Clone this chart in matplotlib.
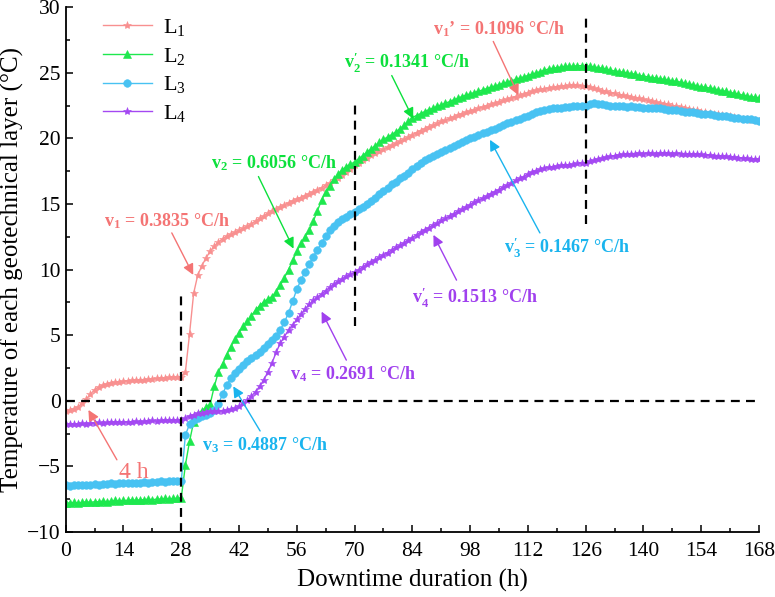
import numpy as np
import matplotlib
matplotlib.use("Agg")
import matplotlib.pyplot as plt

plt.rcParams['font.family'] = ['Liberation Serif', 'DejaVu Serif']
plt.rcParams['mathtext.fontset'] = 'custom'
plt.rcParams['mathtext.rm'] = 'Liberation Serif'
plt.rcParams['mathtext.it'] = 'Liberation Serif:italic'
plt.rcParams['mathtext.bf'] = 'Liberation Serif:bold'

# temperatures (deg C), one reading per hour from 0 to 168 h
L1 = [-0.75, -0.7, -0.6, -0.45, -0.2, 0.15, 0.5, 0.85, 1.05, 1.2,
      1.3, 1.38, 1.42, 1.45, 1.5, 1.52, 1.55, 1.58, 1.6, 1.62,
      1.65, 1.68, 1.7, 1.72, 1.75, 1.78, 1.8, 1.82, 1.85, 2.2,
      5.1, 8.2, 9.6, 10.3, 10.9, 11.4, 11.8, 12.1, 12.35, 12.55,
      12.7, 12.85, 13.0, 13.15, 13.3, 13.5, 13.7, 13.9, 14.1, 14.3,
      14.5, 14.65, 14.8, 14.95, 15.1, 15.25, 15.4, 15.5, 15.65, 15.8,
      15.95, 16.1, 16.25, 16.45, 16.6, 16.8, 17.0, 17.2, 17.45, 17.7,
      17.95, 18.15, 18.35, 18.55, 18.75, 18.9, 19.05, 19.2, 19.35, 19.5,
      19.65, 19.8, 19.95, 20.1, 20.3, 20.45, 20.6, 20.75, 20.9, 21.0,
      21.15, 21.3, 21.4, 21.55, 21.65, 21.8, 21.9, 22.0, 22.1, 22.2,
      22.3, 22.4, 22.5, 22.6, 22.7, 22.8, 22.9, 23.0, 23.1, 23.2,
      23.3, 23.4, 23.5, 23.6, 23.7, 23.75, 23.8, 23.85, 23.9, 23.95,
      24.0, 24.0, 24.05, 24.05, 24.05, 24.0, 24.0, 23.95, 23.85, 23.75,
      23.65, 23.6, 23.5, 23.45, 23.35, 23.3, 23.25, 23.2, 23.1, 23.05,
      23.0, 22.9, 22.85, 22.8, 22.7, 22.65, 22.6, 22.5, 22.45, 22.4,
      22.35, 22.25, 22.2, 22.15, 22.05, 22.0, 21.95, 21.9, 21.85, 21.8,
      21.75, 21.7, 21.65, 21.6, 21.5, 21.45, 21.42, 21.38, 21.35]

L2 = [-7.8, -7.8, -7.75, -7.8, -7.75, -7.7, -7.75, -7.7, -7.7, -7.65,
      -7.7, -7.65, -7.6, -7.65, -7.6, -7.6, -7.55, -7.6, -7.55, -7.55,
      -7.5, -7.55, -7.5, -7.5, -7.45, -7.5, -7.45, -7.45, -7.4, -4.9,
      -3.1, -1.6, -1.0, -0.75, -0.5, -0.25, 1.1, 2.2, 2.8, 3.5,
      4.1, 4.7, 5.2, 5.7, 6.1, 6.5, 6.9, 7.25, 7.55, 7.75,
      7.95, 8.3, 8.8, 9.4, 10.0, 10.7, 11.4, 12.0, 12.5, 13.0,
      13.7, 14.5, 15.3, 15.9, 16.4, 16.9, 17.3, 17.6, 17.85, 18.05,
      18.2, 18.45, 18.7, 18.95, 19.2, 19.45, 19.7, 19.95, 20.1, 20.3,
      20.5, 20.75, 21.0, 21.3, 21.6, 21.75, 21.9, 22.05, 22.2, 22.3,
      22.45, 22.55, 22.7, 22.8, 22.95, 23.05, 23.2, 23.3, 23.4, 23.5,
      23.6, 23.7, 23.8, 23.9, 24.0, 24.1, 24.2, 24.3, 24.4, 24.5,
      24.6, 24.7, 24.8, 24.9, 25.0, 25.1, 25.2, 25.3, 25.35, 25.4,
      25.45, 25.5, 25.5, 25.5, 25.55, 25.55, 25.5, 25.5, 25.45, 25.4,
      25.35, 25.3, 25.2, 25.15, 25.1, 25.05, 25.0, 24.95, 24.9, 24.8,
      24.75, 24.7, 24.65, 24.6, 24.55, 24.5, 24.45, 24.4, 24.35, 24.3,
      24.2, 24.15, 24.1, 24.0, 23.95, 23.9, 23.85, 23.8, 23.7, 23.65,
      23.6, 23.5, 23.45, 23.4, 23.3, 23.25, 23.2, 23.15, 23.1]

L3 = [-6.45, -6.5, -6.45, -6.4, -6.45, -6.4, -6.4, -6.35, -6.4, -6.35,
      -6.35, -6.3, -6.35, -6.3, -6.3, -6.25, -6.3, -6.25, -6.25, -6.2,
      -6.25, -6.2, -6.2, -6.15, -6.2, -6.15, -6.15, -6.1, -6.1, -2.6,
      -1.8, -1.5, -1.3, -1.15, -1.05, -0.95, -0.7, -0.25, 0.5, 1.2,
      1.7, 2.1, 2.45, 2.75, 3.0, 3.25, 3.5, 3.75, 4.0, 4.3,
      4.6, 4.95, 5.4, 6.0, 6.7, 7.6, 8.5, 9.2, 9.85, 10.4,
      11.0, 11.5, 12.05, 12.55, 13.0, 13.35, 13.6, 13.85, 14.05, 14.25,
      14.4, 14.6, 14.8, 15.0, 15.25, 15.5, 15.75, 16.0, 16.25, 16.5,
      16.7, 16.95, 17.15, 17.4, 17.65, 17.9, 18.1, 18.35, 18.55, 18.7,
      18.85, 19.0, 19.15, 19.3, 19.45, 19.6, 19.75, 19.9, 20.0, 20.15,
      20.3, 20.4, 20.5, 20.65, 20.75, 20.9, 21.0, 21.15, 21.25, 21.4,
      21.5, 21.65, 21.75, 21.9, 22.0, 22.1, 22.2, 22.25, 22.3, 22.35,
      22.35, 22.4, 22.4, 22.45, 22.45, 22.5, 22.5, 22.6, 22.7, 22.65,
      22.6, 22.55, 22.5, 22.5, 22.45, 22.45, 22.4, 22.45, 22.4, 22.4,
      22.35, 22.35, 22.3, 22.3, 22.3, 22.25, 22.2, 22.2, 22.15, 22.1,
      22.05, 22.0, 22.0, 21.95, 21.9, 21.85, 21.85, 21.8, 21.75, 21.7,
      21.7, 21.65, 21.6, 21.55, 21.5, 21.5, 21.45, 21.4, 21.35]

L4 = [-1.75, -1.8, -1.75, -1.75, -1.7, -1.75, -1.7, -1.7, -1.65, -1.7,
      -1.65, -1.65, -1.6, -1.65, -1.6, -1.6, -1.6, -1.55, -1.6, -1.55,
      -1.55, -1.5, -1.55, -1.5, -1.5, -1.45, -1.5, -1.45, -1.45, -1.3,
      -1.15, -1.05, -0.95, -0.9, -0.85, -0.8, -0.8, -0.75, -0.75, -0.7,
      -0.65, -0.55, -0.4, -0.2, 0.05, 0.35, 0.7, 1.1, 1.6, 2.2,
      2.9, 3.7, 4.4, 4.9, 5.4, 5.8, 6.2, 6.6, 7.0, 7.35,
      7.65, 7.9, 8.15, 8.4, 8.65, 8.9, 9.1, 9.3, 9.5, 9.65,
      9.8, 10.0, 10.2, 10.4, 10.6, 10.75, 10.95, 11.15, 11.3, 11.5,
      11.7, 11.85, 12.05, 12.25, 12.45, 12.65, 12.85, 13.05, 13.2, 13.4,
      13.55, 13.75, 13.9, 14.1, 14.25, 14.45, 14.6, 14.8, 14.95, 15.15,
      15.3, 15.45, 15.6, 15.8, 15.95, 16.1, 16.3, 16.45, 16.6, 16.8,
      16.95, 17.1, 17.3, 17.45, 17.55, 17.65, 17.75, 17.8, 17.85, 17.9,
      17.95, 18.0, 18.0, 18.05, 18.1, 18.1, 18.15, 18.25, 18.35, 18.45,
      18.5, 18.6, 18.65, 18.7, 18.75, 18.8, 18.8, 18.85, 18.85, 18.9,
      18.85, 18.9, 18.9, 18.85, 18.9, 18.9, 18.9, 18.85, 18.9, 18.85,
      18.85, 18.8, 18.85, 18.8, 18.8, 18.75, 18.75, 18.7, 18.7, 18.65,
      18.65, 18.6, 18.6, 18.55, 18.5, 18.5, 18.45, 18.45, 18.4]

series = [L1, L2, L3, L4]
labels = ['L$_1$', 'L$_2$', 'L$_3$', 'L$_4$']
line_colors = ['#F89090', '#1EE84E', '#48C2F2', '#A448F2']
text_colors = ['#F47474', '#0CE03C', '#1AB4EE', '#A040EE']
markers = ['*', '^', 'o', '*']
marker_sizes = [6, 5.5, 5.5, 6]

xticks = [0, 14, 28, 42, 56, 70, 84, 98, 112, 126, 140, 154, 168]
yticks = [-10, -5, 0, 5, 10, 15, 20, 25, 30]

# stage boundaries: (time, y bottom, y top)
stage_lines = [(28, -10, 8.1), (70, 5.7, 22.7), (126, 13.5, 29.3)]

# rate annotations: text, text pos, arrow tail, arrow head, colour index
rate_notes = [
    (r'$\mathbf{v_1}$ = 0.3835 °C/h', (24.6, 13.7), (25.7, 12.8), (30.9, 9.6), 0),
    (r'$\mathbf{v_2}$ = 0.6056 °C/h', (50.5, 18.1), (46.7, 17.1), (55.2, 11.6), 1),
    (r'$\mathbf{v_3}$ = 0.4887 °C/h', (48.3, -3.35), (47.1, -2.3), (40.6, 1.1), 2),
    (r'$\mathbf{v_4}$ = 0.2691 °C/h', (69.6, 2.05), (68.0, 3.1), (62.0, 6.8), 3),
    (r'$\mathbf{v_1}$’ = 0.1096 °C/h', (105.0, 28.35), (103.6, 27.4), (109.7, 23.3), 0),
    (r'$\mathbf{v_2^{\prime}}$ = 0.1341 °C/h', (82.6, 25.8), (79.0, 24.8), (84.2, 21.5), 1),
    (r'$\mathbf{v_3^{\prime}}$ = 0.1467 °C/h', (121.4, 11.7), (114.9, 12.8), (102.8, 19.9), 2),
    (r'$\mathbf{v_4^{\prime}}$ = 0.1513 °C/h', (99.2, 7.85), (94.7, 9.2), (89.1, 12.65), 3),
]

fig = plt.figure(figsize=(7.75, 5.97), dpi=100)
ax = fig.add_axes([0.0848, 0.109, 0.8946, 0.8787])

for vals, lab, lc, mk, ms in zip(series, labels, line_colors, markers, marker_sizes):
    hours = np.arange(len(vals))
    ax.plot(hours, vals, color=lc, lw=1.0, marker=mk, markersize=ms,
            markeredgewidth=0.4, label=lab)

# reference dashed lines
dash = (0, (4, 2.8))
ax.axhline(0, color='black', lw=1.6, linestyle=dash)
for t, y0, y1 in stage_lines:
    ax.plot([t, t], [y0, y1], color='black', lw=1.6, linestyle=dash)

# rate labels with arrows
for txt, tpos, tail, head, ci in rate_notes:
    ax.text(tpos[0], tpos[1], txt, color=text_colors[ci], fontsize=13,
            fontweight='bold', ha='center', va='center')
    ax.annotate('', xy=head, xytext=tail,
                arrowprops=dict(arrowstyle='-|>', color=text_colors[ci], lw=1.0,
                                mutation_scale=16, shrinkA=0, shrinkB=0))

ax.text(16.4, -5.5, '4 h', color=text_colors[0], fontsize=17, ha='center', va='center')
ax.annotate('', xy=(5.5, -0.7), xytext=(12.4, -4.5),
            arrowprops=dict(arrowstyle='-|>', color=text_colors[0], lw=1.0,
                            mutation_scale=16, shrinkA=0, shrinkB=0))

ax.set_xlim(0, 168)
ax.set_ylim(-10, 30)
ax.set_xticks(xticks)
ax.set_yticks(yticks)
ax.set_xticks(np.arange(7, 168, 14), minor=True)
ax.set_yticks(np.arange(-7.5, 30, 5), minor=True)
ax.tick_params(which='both', direction='in', labelsize=15.5, width=1.1)
ax.tick_params(which='major', length=5)
ax.tick_params(which='minor', length=3)
ax.tick_params(axis='x', pad=7)
ax.spines['top'].set_visible(False)
ax.spines['right'].set_visible(False)
ax.spines['left'].set_linewidth(1.3)
ax.spines['bottom'].set_linewidth(1.3)

ax.set_xlabel('Downtime duration (h)', fontsize=18, labelpad=6)
ax.set_ylabel('Temperature of each geotechnical layer (°C)', fontsize=18, labelpad=2)

ax.legend(loc='upper left', bbox_to_anchor=(0.025, 1.02), frameon=False,
          fontsize=16, handlelength=2.2, labelspacing=0.35, handletextpad=0.5)

fig.savefig('out.png', dpi=100)
